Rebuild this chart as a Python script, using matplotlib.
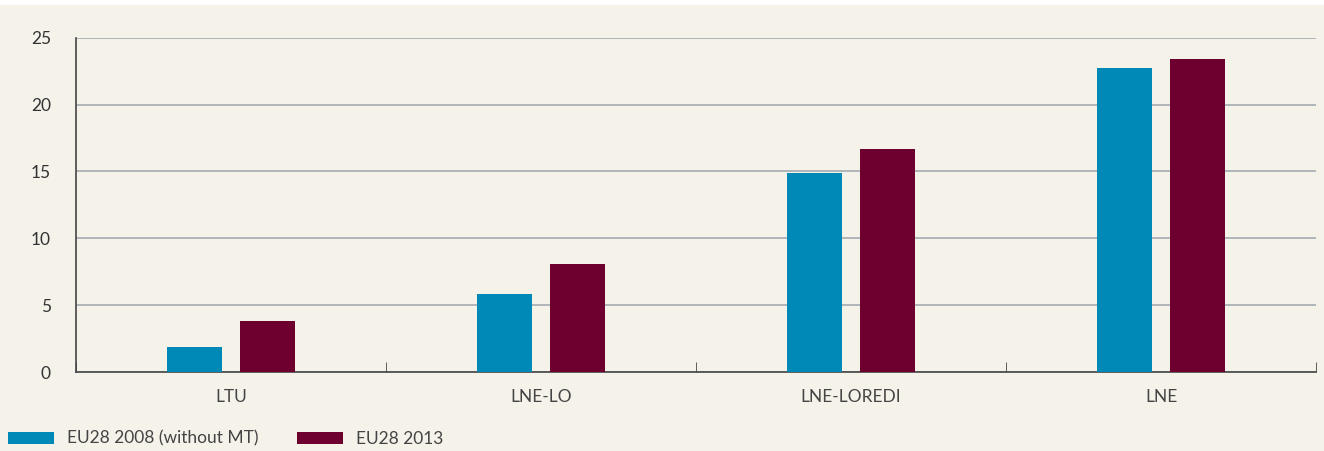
import matplotlib.pyplot as plt
import numpy as np
from matplotlib.patches import Rectangle

categories = ["LTU", "LNE-LO", "LNE-LOREDI", "LNE"]
eu2008 = [1.9, 5.8, 14.9, 22.7]
eu2013 = [3.8, 8.1, 16.7, 23.4]
labels = ["EU28 2008 (without MT)", "EU28 2013"]

bg = "#f5f2ea"
blue = "#0088b6"
maroon = "#6e0030"
plt.rcParams["font.family"] = ["Lato", "DejaVu Sans"]

fig = plt.figure(figsize=(13.24, 4.51), dpi=100, facecolor=bg)
fig.patches.append(Rectangle((0, 0.99), 1, 0.01, transform=fig.transFigure,
                             facecolor="white", edgecolor="none"))
ax = fig.add_axes([0.0574, 0.175, 0.9366, 0.7415])
ax.set_facecolor(bg)

x = np.arange(len(categories))
w = 0.177
b1 = ax.bar(x - 0.117, eu2008, w, color=blue, zorder=3)
b2 = ax.bar(x + 0.117, eu2013, w, color=maroon, zorder=3)

ax.set_xlim(-0.5, len(categories) - 0.5)
ax.set_ylim(0, 25)
ax.set_yticks([0, 5, 10, 15, 20, 25])
ax.yaxis.grid(True, color="#a3aab0", linewidth=1.2, zorder=0)
ax.tick_params(axis="y", length=0, labelsize=12.5, colors="#333333", pad=18)

ax.set_xticks(x)
ax.set_xticklabels(categories)
ax.tick_params(axis="x", length=0, labelsize=12.5, colors="#444444", pad=12)
ax.set_xticks(np.arange(len(categories) + 1) - 0.5, minor=True)
ax.tick_params(axis="x", which="minor", direction="in", length=7, color="#444444")

for s in ["top", "right"]:
    ax.spines[s].set_visible(False)
for s in ["left", "bottom"]:
    ax.spines[s].set_color("#444444")
    ax.spines[s].set_linewidth(1.2)

fig.legend([b1, b2], labels, loc="center left", bbox_to_anchor=(0.006, 0.027),
           ncol=2, frameon=False, fontsize=12.5, handlelength=2.65, handleheight=0.7,
           columnspacing=2.2, handletextpad=0.75, labelcolor="#444444",
           borderpad=0, borderaxespad=0)

plt.savefig("out.png", dpi=100, facecolor=bg)
